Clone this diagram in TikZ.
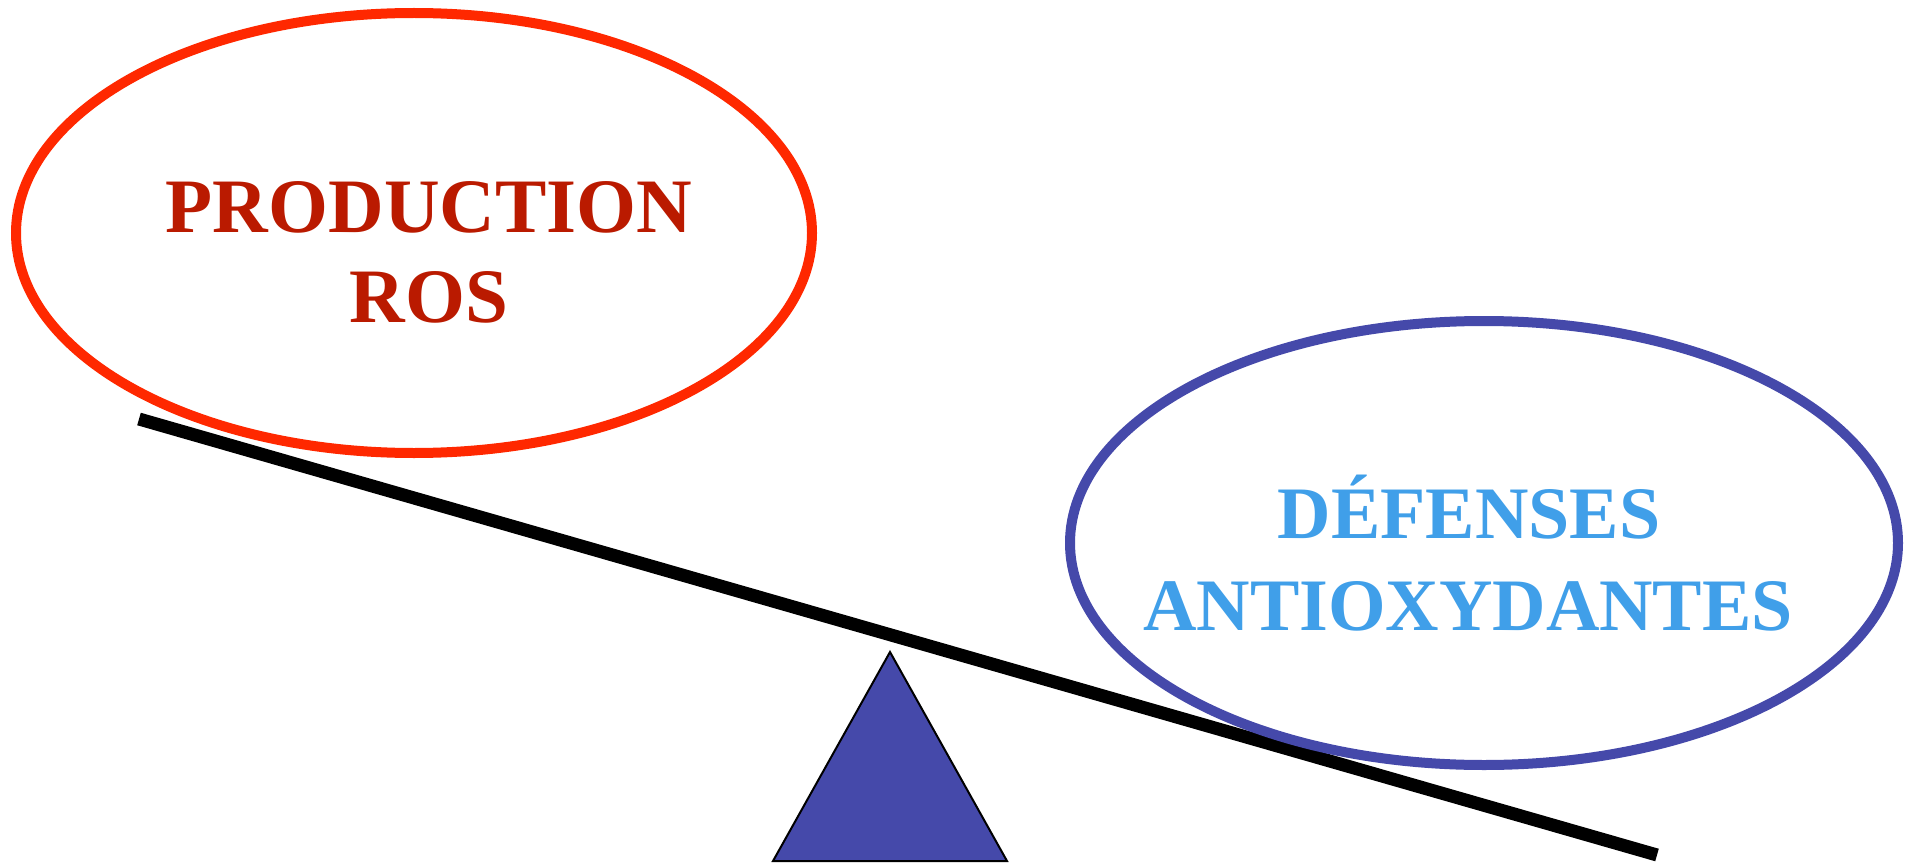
\documentclass[tikz,border=0pt]{standalone}
\usepackage{fontspec}
\setmainfont{Liberation Serif}
\definecolor{rosred}{RGB}{255,40,0}
\definecolor{rostext}{RGB}{186,26,0}
\definecolor{defblue}{RGB}{69,73,170}
\definecolor{deftext}{RGB}{64,159,233}
\tikzset{
  bubble/.style={line width=10pt},
  beam/.style={line width=13pt, black},
  pivot/.style={fill=defblue, draw=black, line width=2pt, line join=miter},
  roslabel/.style={anchor=base, inner sep=0pt, text=rostext,
    font=\fontsize{77}{90}\selectfont\bfseries},
  deflabel/.style={anchor=base, inner sep=0pt, text=deftext,
    font=\fontsize{74}{92}\selectfont\bfseries},
}
\begin{document}
\begin{tikzpicture}[x=1pt,y=-1pt]
  \useasboundingbox (0,0) rectangle (1914,864);
  % tilted beam of the balance
  \coordinate (beamL) at (139,419);
  \coordinate (beamR) at (1657,855);
  \draw[beam] (beamL) -- (beamR);
  % pivot
  \coordinate (apex) at (890,652);
  \coordinate (baseL) at (773,861);
  \coordinate (baseR) at (1007,861);
  \draw[pivot] (apex) -- (baseR) -- (baseL) -- cycle;
  % the two pans
  \draw[bubble, draw=rosred] (414,233) ellipse [x radius=398, y radius=220];
  \draw[bubble, draw=defblue] (1484,543) ellipse [x radius=414, y radius=222];
  % labels
  \node[roslabel] (prod) at (429,232) {PRODUCTION};
  \node[roslabel] (ros) at (429,322) {ROS};
  \node[deflabel] (def) at (1469,538) {DÉFENSES};
  \node[deflabel] (antiox) at (1468,630) {ANTIOXYDANTES};
\end{tikzpicture}
\end{document}
